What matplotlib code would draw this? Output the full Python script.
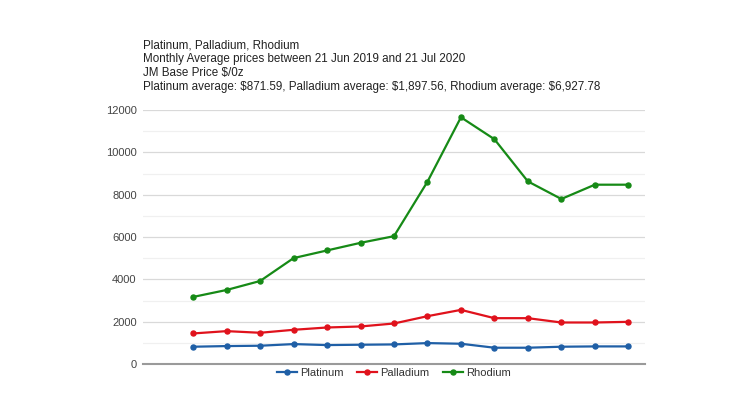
import matplotlib
matplotlib.use("Agg")
import matplotlib.pyplot as plt
from matplotlib.ticker import MultipleLocator

plt.rcParams['font.family'] = ['Liberation Sans', 'DejaVu Sans']

months = ["Jun 2019", "Jul 2019", "Aug 2019", "Sep 2019", "Oct 2019", "Nov 2019", "Dec 2019",
          "Jan 2020", "Feb 2020", "Mar 2020", "Apr 2020", "May 2020", "Jun 2020", "Jul 2020"]
platinum = [816, 847, 863, 941, 894, 910, 925, 988, 957, 769, 769, 816, 831, 831]
palladium = [1443, 1553, 1475, 1616, 1725, 1773, 1914, 2259, 2557, 2165, 2165, 1961, 1961, 1992]
rhodium = [3169, 3498, 3922, 5004, 5365, 5725, 6039, 8612, 11655, 10620, 8627, 7796, 8471, 8471]

title_lines = [
    "Platinum, Palladium, Rhodium",
    "Monthly Average prices between 21 Jun 2019 and 21 Jul 2020",
    "JM Base Price $/0z",
    "Platinum average: $871.59, Palladium average: $1,897.56, Rhodium average: $6,927.78",
]

fig = plt.figure(figsize=(7.5, 3.98), dpi=100)
ax = fig.add_axes([143/750, (398-364)/398, (645-143)/750, (364-110)/398])

x = list(range(len(months)))
series = [("Platinum", platinum, "#1f5fa6"), ("Palladium", palladium, "#e0121c"),
          ("Rhodium", rhodium, "#168a16")]
for name, vals, col in series:
    ax.plot(x, vals, color=col, lw=1.6, marker='o', markersize=3.6, label=name, zorder=3)

ax.set_xlim(-1.5, len(months) - 0.5)
ax.set_ylim(0, 12000)
ax.yaxis.set_major_locator(MultipleLocator(2000))
ax.yaxis.set_minor_locator(MultipleLocator(1000))
ax.grid(axis='y', which='major', color='#d9d9d9', lw=0.9)
ax.grid(axis='y', which='minor', color='#f0f0f0', lw=0.9)
ax.set_xticks([])
for s in ['top', 'right', 'left']:
    ax.spines[s].set_visible(False)
ax.spines['bottom'].set_color('#9a9a9a')
ax.spines['bottom'].set_linewidth(1.5)
ax.tick_params(axis='y', which='both', length=0, pad=4.5, labelsize=8, labelcolor='#444444')
ax.set_axisbelow(True)

for i, line in enumerate(title_lines):
    fig.text(143/750, 1 - (45 + 14*i)/398, line, fontsize=8.35, color='#222222', va='center', ha='left')

fig.legend(loc='center', bbox_to_anchor=(394/750, 1 - 372.5/398), ncol=3, frameon=False,
           fontsize=8, labelcolor='#333333', handlelength=1.8, columnspacing=1.2,
           handletextpad=0.3, borderaxespad=0)

fig.savefig("out.png", dpi=100)
